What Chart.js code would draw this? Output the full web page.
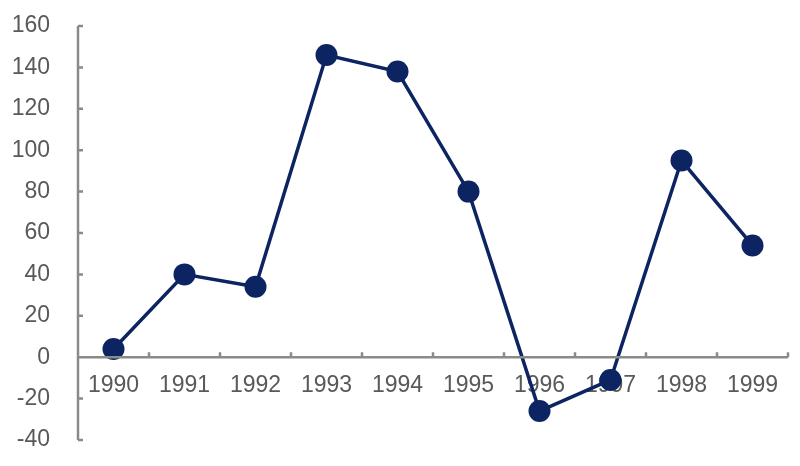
<!DOCTYPE html>
<html>
<head>
<meta charset="utf-8">
<script src="https://cdn.jsdelivr.net/npm/chart.js@4"></script>
<style>
  html, body { margin: 0; padding: 0; background: #fff; }
  #wrap { width: 800px; height: 466px; }
</style>
</head>
<body>
<div id="wrap"><canvas id="c"></canvas></div>
<script>
const years = ['1990', '1991', '1992', '1993', '1994', '1995', '1996', '1997', '1998', '1999'];
const values = [4, 40, 34, 146, 138, 80, -26, -11, 95, 54];
const yTicks = [-40, -20, 0, 20, 40, 60, 80, 100, 120, 140, 160];

const axisColor = '#8a8a8a';
const lineColor = '#0c2461';
const labelFont = { family: "'Helvetica Neue', Helvetica, Arial, sans-serif", size: 23 };

// axis lines and inward tick marks, placed from the scales
const axisPlugin = {
  id: 'axes',
  afterDraw(chart) {
    const { ctx, scales: { x, y } } = chart;
    const x0 = y.left + y.width;
    const y0 = y.getPixelForValue(0);
    ctx.save();
    ctx.strokeStyle = axisColor;
    ctx.lineWidth = 2.5;
    ctx.beginPath();
    ctx.moveTo(x0, y.getPixelForValue(160));
    ctx.lineTo(x0, y.getPixelForValue(-40));
    yTicks.forEach((v) => {
      const py = y.getPixelForValue(v);
      ctx.moveTo(x0, py);
      ctx.lineTo(x0 + 5, py);
    });
    ctx.moveTo(x0, y0);
    ctx.lineTo(x.right, y0);
    const step = x.getPixelForValue(1) - x.getPixelForValue(0);
    for (let i = 1; i <= years.length; i += 1) {
      const px = x.getPixelForValue(i) - step / 2;
      ctx.moveTo(px, y0);
      ctx.lineTo(px, y0 - 5);
    }
    ctx.stroke();
    ctx.restore();
  }
};

new Chart(document.getElementById('c'), {
  type: 'line',
  data: {
    labels: years,
    datasets: [{
      data: values,
      borderColor: lineColor,
      backgroundColor: lineColor,
      borderWidth: 3.5,
      pointRadius: 11,
      pointBackgroundColor: lineColor,
      pointBorderWidth: 0,
      tension: 0,
      fill: false
    }]
  },
  options: {
    responsive: true,
    maintainAspectRatio: false,
    animation: false,
    layout: { autoPadding: false, padding: { top: 26, bottom: 26, right: 12, left: 0 } },
    plugins: { legend: { display: false }, tooltip: { enabled: false } },
    scales: {
      x: {
        position: { y: 0 },
        offset: true,
        grid: { display: false, drawTicks: false },
        border: { display: false },
        ticks: {
          color: '#595959',
          padding: 15,
          maxRotation: 0,
          autoSkip: false,
          font: labelFont
        }
      },
      y: {
        min: -40,
        max: 160,
        afterFit(scale) {
          scale.width = 78;
          scale.paddingTop = 0;
          scale.paddingBottom = 0;
        },
        grid: { display: false, drawTicks: false },
        border: { display: false },
        ticks: {
          stepSize: 20,
          color: '#595959',
          padding: 28,
          font: labelFont
        }
      }
    }
  },
  plugins: [axisPlugin]
});
</script>
</body>
</html>
